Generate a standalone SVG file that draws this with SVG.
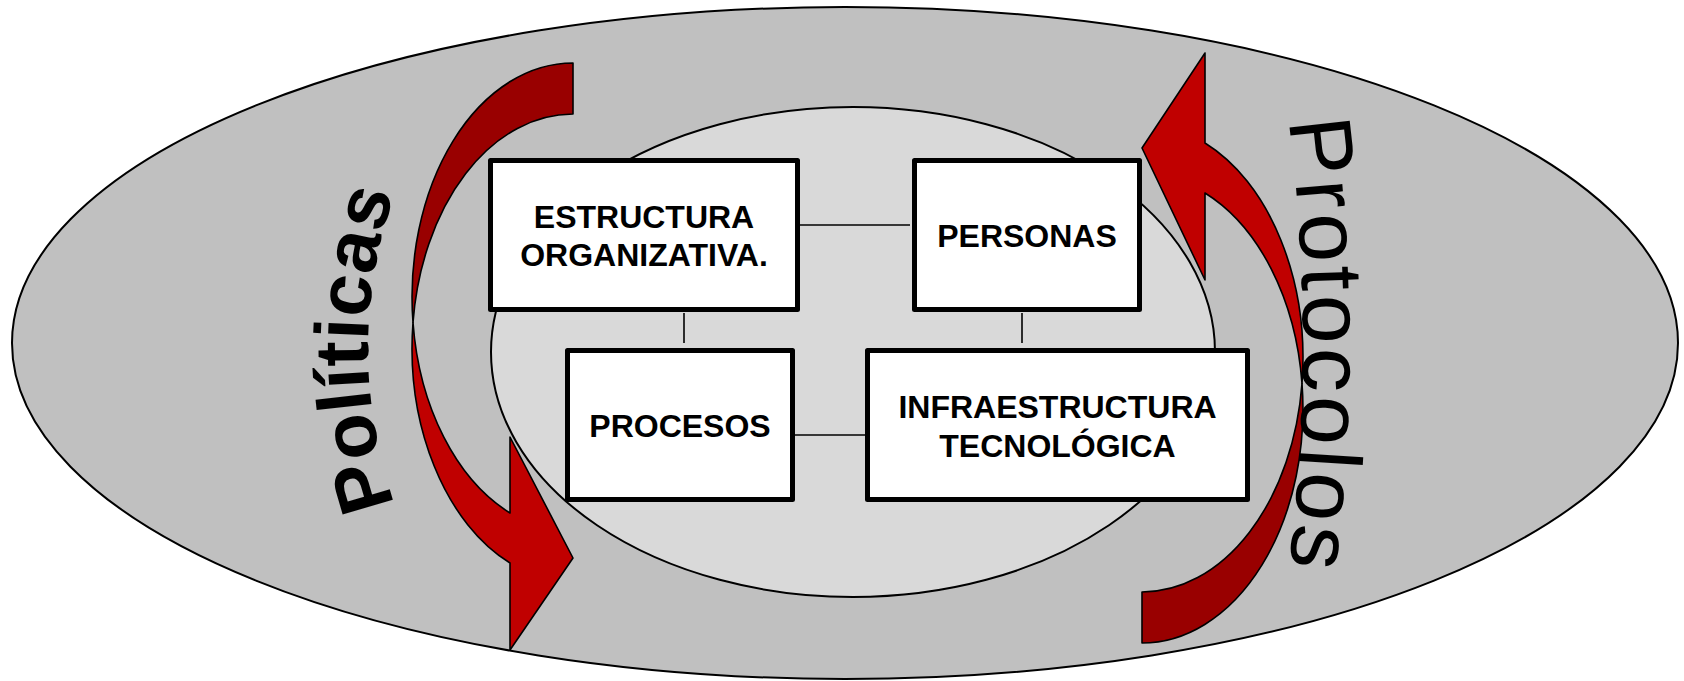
<svg xmlns="http://www.w3.org/2000/svg" width="1684" height="681" viewBox="0 0 1684 681">
<style>
.ell{stroke:#000;stroke-width:2}
.box{fill:#fff;stroke:#000;stroke-width:5;stroke-linejoin:round}
.lbl{font-family:"Liberation Sans",Arial,sans-serif;font-weight:bold;font-size:32px;text-anchor:middle;fill:#000}
.conn line{stroke:#000;stroke-width:1.6}
.dark{fill:#990000;stroke:#000;stroke-width:1.6;stroke-linejoin:round}
.bright{fill:#C00000;stroke:#000;stroke-width:1.6;stroke-linejoin:round}
.side{font-family:"Liberation Sans",Arial,sans-serif;fill:#000;text-anchor:middle}
</style>
<defs>
<path id="arcL" d="M400,519 Q336,349 400,179"/>
<path id="arcR" d="M1288,116 Q1318,345 1288,574"/>
</defs>
<rect width="1684" height="681" fill="#fff"/>
<ellipse class="ell" cx="845" cy="343" rx="833" ry="336" fill="#C0C0C0"/>
<ellipse class="ell" cx="853" cy="352" rx="362" ry="245" fill="#D9D9D9"/>
<g id="arrow-left">
<path class="dark" d="M573,63 A161,234 0 0 0 413,322.5 A161,234 0 0 1 573,114 Z"/>
<path class="bright" d="M413,322.5 A161,234 0 0 0 510,513 L510,437 L573,558 L510,650 L510,563 A161,234 0 0 1 413,322.5 Z"/>
</g>
<g id="arrow-right">
<path class="dark" d="M1142,643 A161,234 0 0 0 1302,383.5 A161,234 0 0 1 1142,592 Z"/>
<path class="bright" d="M1302,383.5 A161,234 0 0 0 1205,193 L1205,280 L1142,148 L1205,53 L1205,143 A161,234 0 0 1 1302,383.5 Z"/>
</g>
<text class="side" font-weight="bold" font-size="76" letter-spacing="0.5"><textPath href="#arcL" startOffset="50%">Políticas</textPath></text>
<text class="side" font-size="88" letter-spacing="3.5"><textPath href="#arcR" startOffset="50%">Protocolos</textPath></text>
<g id="connectors" class="conn">
<line x1="800" y1="225" x2="910" y2="225"/>
<line x1="684" y1="313" x2="684" y2="343"/>
<line x1="1022" y1="313" x2="1022" y2="343"/>
<line x1="795" y1="435" x2="870" y2="435"/>
</g>
<g id="node-estructura">
<rect class="box" x="490.5" y="160.5" width="307" height="149"/>
<text class="lbl" x="644" y="228">ESTRUCTURA</text>
<text class="lbl" x="644" y="266">ORGANIZATIVA.</text>
</g>
<g id="node-personas">
<rect class="box" x="914.5" y="160.5" width="225" height="149"/>
<text class="lbl" x="1027" y="247">PERSONAS</text>
</g>
<g id="node-procesos">
<rect class="box" x="567.5" y="350.5" width="225" height="149"/>
<text class="lbl" x="680" y="437">PROCESOS</text>
</g>
<g id="node-infra">
<rect class="box" x="867.5" y="350.5" width="380" height="149"/>
<text class="lbl" x="1057.5" y="418">INFRAESTRUCTURA</text>
<text class="lbl" x="1057.5" y="457">TECNOLÓGICA</text>
</g>
</svg>
